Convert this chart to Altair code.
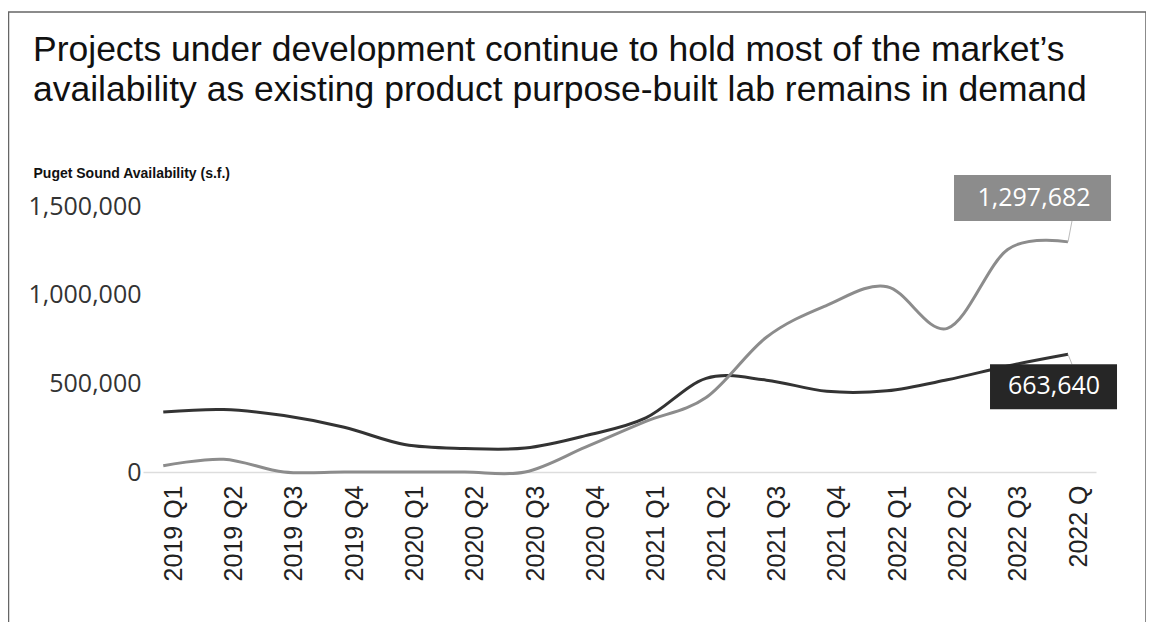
import altair as alt
import pandas as pd

# ---- data ----
quarters = ["2019 Q1", "2019 Q2", "2019 Q3", "2019 Q4",
            "2020 Q1", "2020 Q2", "2020 Q3", "2020 Q4",
            "2021 Q1", "2021 Q2", "2021 Q3", "2021 Q4",
            "2022 Q1", "2022 Q2", "2022 Q3", "2022 Q"]
existing = [338000, 352000, 318000, 252000, 155000, 133000, 135000, 205000,
            305000, 528000, 518000, 455000, 458000, 520000, 598000, 663640]
under_dev = [35000, 72000, 0, 0, 0, 0, 0, 140000,
             285000, 420000, 760000, 940000, 1045000, 810000, 1255000, 1297682]
series_names = ["Existing", "Under development"]
series_colors = ["#333333", "#8c8c8c"]
y_ticks = [0, 500000, 1000000, 1500000]

title_lines = ["Projects under development continue to hold most of the market\u2019s",
               "availability as existing product purpose-built lab remains in demand"]
y_title = "Puget Sound Availability (s.f.)"

df_exist = pd.DataFrame({"quarter": quarters, "value": existing, "series": series_names[0]})
df_dev = pd.DataFrame({"quarter": quarters, "value": under_dev, "series": series_names[1]})
ann_dev = df_dev.tail(1)
ann_exist = df_exist.tail(1)

X = alt.X("quarter:N", sort=quarters,
          scale=alt.Scale(type="point", padding=0.4, align=0.42),
          axis=alt.Axis(title=None, labelAngle=270, labelFont="Liberation Sans",
                        labelFontSize=25, labelColor="#222222", labelPadding=13,
                        ticks=False, tickSize=0, domain=True, domainColor="#dddddd",
                        domainWidth=1.5, grid=False, labelOffset=10))
Y = alt.Y("value:Q",
          scale=alt.Scale(domain=[0, 1500000], nice=False),
          axis=alt.Axis(values=y_ticks, labelExpr="format(datum.value, ',')",
                        title=y_title, titleAngle=0,
                        titleX=-110, titleY=-33, titleAlign="left", titleBaseline="middle",
                        titleFont="Liberation Sans", titleFontSize=14, titleFontWeight="bold",
                        titleColor="#111111", labelFont="Open Sans", labelFontSize=25,
                        labelColor="#333333", labelPadding=2, ticks=False, tickSize=0,
                        domain=False, grid=False))

frame = alt.Chart(alt.Data(values=[{"a": 1}])).mark_rect(
    fillOpacity=0, stroke="#666666", strokeWidth=1.5
).encode(x=alt.value(-134.5), x2=alt.value(1003), y=alt.value(-194), y2=alt.value(470))

line_exist = alt.Chart(df_exist).mark_line(
    interpolate="cardinal", tension=0, strokeWidth=3, color=series_colors[0]
).encode(x=X, y=Y)
line_dev = alt.Chart(df_dev).mark_line(
    interpolate="cardinal", tension=0, strokeWidth=3, color=series_colors[1]
).encode(x=X, y=Y)

lead_dev = alt.Chart(ann_dev).mark_rule(color="#bbbbbb", strokeWidth=1, x2Offset=4, y2Offset=-21).encode(
    x=X, y=Y, x2=alt.X2("quarter"), y2=alt.Y2("value"))
box_dev = alt.Chart(ann_dev).mark_rect(
    color=series_colors[1], xOffset=-114, x2Offset=43, yOffset=-67, y2Offset=-21
).encode(x=X, y=Y, x2=alt.X2("quarter"), y2=alt.Y2("value"))
text_dev = alt.Chart(ann_dev).mark_text(
    font="Open Sans", fontSize=25, color="white", dx=-34, dy=-44, align="center", baseline="middle"
).encode(x=X, y=Y, text=alt.Text("value:Q", format=","))

lead_exist = alt.Chart(ann_exist).mark_rule(color="#bbbbbb", strokeWidth=1, x2Offset=4, y2Offset=10).encode(
    x=X, y=Y, x2=alt.X2("quarter"), y2=alt.Y2("value"))
box_exist = alt.Chart(ann_exist).mark_rect(
    color="#262626", xOffset=-78, x2Offset=49, yOffset=10, y2Offset=55
).encode(x=X, y=Y, x2=alt.X2("quarter"), y2=alt.Y2("value"))
text_exist = alt.Chart(ann_exist).mark_text(
    font="Open Sans", fontSize=25, color="white", dx=-14, dy=32, align="center", baseline="middle"
).encode(x=X, y=Y, text=alt.Text("value:Q", format=","))

chart = alt.layer(
    frame, line_exist, line_dev, lead_dev, box_dev, text_dev, lead_exist, box_exist, text_exist
).properties(
    width=953, height=266,
    title=alt.TitleParams(text=title_lines, anchor="start", frame="group", dx=-110,
                          fontSize=35.5, font="Liberation Sans", fontWeight="normal",
                          color="#111111", lineHeight=40, offset=-97),
    padding={"left": 135, "top": 198, "right": 50, "bottom": 150},
    autosize=alt.AutoSizeParams(type="none"),
).configure_view(strokeOpacity=0)

chart.save("out.html", embed_options={"renderer": "svg", "actions": False})
